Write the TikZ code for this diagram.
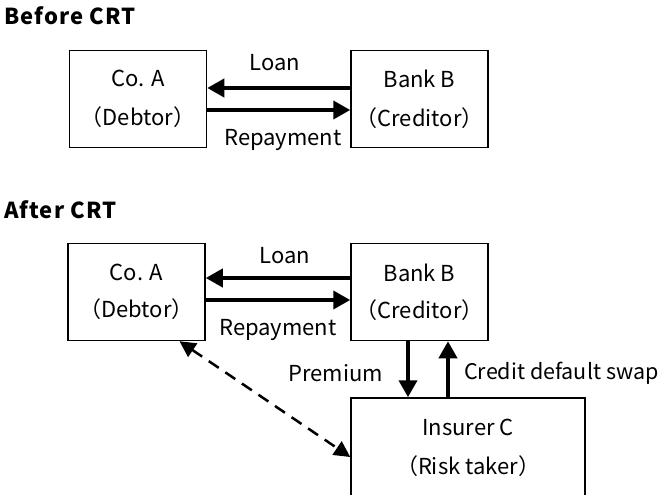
\documentclass[tikz,border=0pt]{standalone}
\usepackage{fontspec}
\setmainfont{Noto Sans CJK JP}
\usetikzlibrary{arrows.meta,positioning}
\newcommand{\partyfont}{\fontsize{22}{39}\selectfont}
\tikzstyle{party} = [rectangle, draw, line width=1.5pt, align=center,
  minimum width=137pt, minimum height=97pt, inner sep=0pt, font=\partyfont]
\tikzstyle{heading} = [anchor=west, inner sep=0pt,
  font=\fontsize{22}{26}\selectfont\bfseries\addfontfeatures{LetterSpace=5}]
\tikzstyle{flowtext} = [inner sep=0pt, font=\fontsize{22}{26}\selectfont]
\tikzstyle{line} = [draw, line width=4pt, -{Triangle[length=17pt,width=18pt]}]
\tikzstyle{dline} = [draw, line width=2.5pt, dash pattern=on 12pt off 8pt,
  {Triangle[length=16pt,width=16pt]}-{Triangle[length=16pt,width=16pt]}]

\begin{document}
\begin{tikzpicture}[x=1pt,y=-1pt]

  \useasboundingbox (0,0) rectangle (662,495);
  \clip (0,0) rectangle (662,495);

  %%%%%%%%%%%%%%%%%%%%%%%%%%%%%%%%%%%%%%%%%%%%%%%%%%%%%%%%%%%%%%
  %                    BEFORE CRT                              %
  %%%%%%%%%%%%%%%%%%%%%%%%%%%%%%%%%%%%%%%%%%%%%%%%%%%%%%%%%%%%%%

  \node [heading] (before-title) at (4,16) {Before CRT};

  \node [party] (before-debtor) at (138,99) {Co. A\\（Debtor）};
  \node [party] (before-creditor) at (419.5,99) {Bank B\\（Creditor）};

  \draw [line] ([yshift=11pt]before-creditor.west) -- ([yshift=11pt]before-debtor.east);
  \draw [line] ([yshift=-11pt]before-debtor.east) -- ([yshift=-11pt]before-creditor.west);

  \node [flowtext] (before-loan) at (275,63) {Loan};
  \node [flowtext] (before-repayment) at (283,140) {Repayment};

  %%%%%%%%%%%%%%%%%%%%%%%%%%%%%%%%%%%%%%%%%%%%%%%%%%%%%%%%%%%%%%
  %                    AFTER CRT                               %
  %%%%%%%%%%%%%%%%%%%%%%%%%%%%%%%%%%%%%%%%%%%%%%%%%%%%%%%%%%%%%%

  \node [heading] (after-title) at (4,210) {After CRT};

  \node [party, font=\fontsize{22}{37}\selectfont] (after-debtor) at (136.5,292) {Co. A\\（Debtor）};
  \node [party, font=\fontsize{22}{37}\selectfont] (after-creditor) at (419.5,292) {Bank B\\（Creditor）};
  \node [party, minimum width=234pt, minimum height=100pt] (after-insurer) at (468,448) {Insurer C\\（Risk taker）};

  \draw [line] ([yshift=14pt]after-creditor.west) -- ([yshift=14pt]after-debtor.east);
  \draw [line] ([yshift=-8pt]after-debtor.east) -- ([yshift=-8pt]after-creditor.west);

  \node [flowtext] (after-loan) at (285,256) {Loan};
  \node [flowtext] (after-repayment) at (278,330) {Repayment};

  \draw [line] ([xshift=-11.5pt]after-creditor.south) -- ([xshift=-11.5pt]after-creditor.south |- after-insurer.north);
  \draw [line] ([xshift=28.5pt]after-creditor.south |- after-insurer.north) -- ([xshift=28.5pt]after-creditor.south);

  \node [flowtext, anchor=east] (after-premium) at (383,373) {Premium};
  \node [flowtext, anchor=west, font=\fontsize{21.5}{26}\selectfont] (after-cds) at (464,373) {Credit default swap};

  \draw [dline] ([xshift=43pt]after-debtor.south) -- ([yshift=-9pt]after-insurer.west);

\end{tikzpicture}
\end{document}
